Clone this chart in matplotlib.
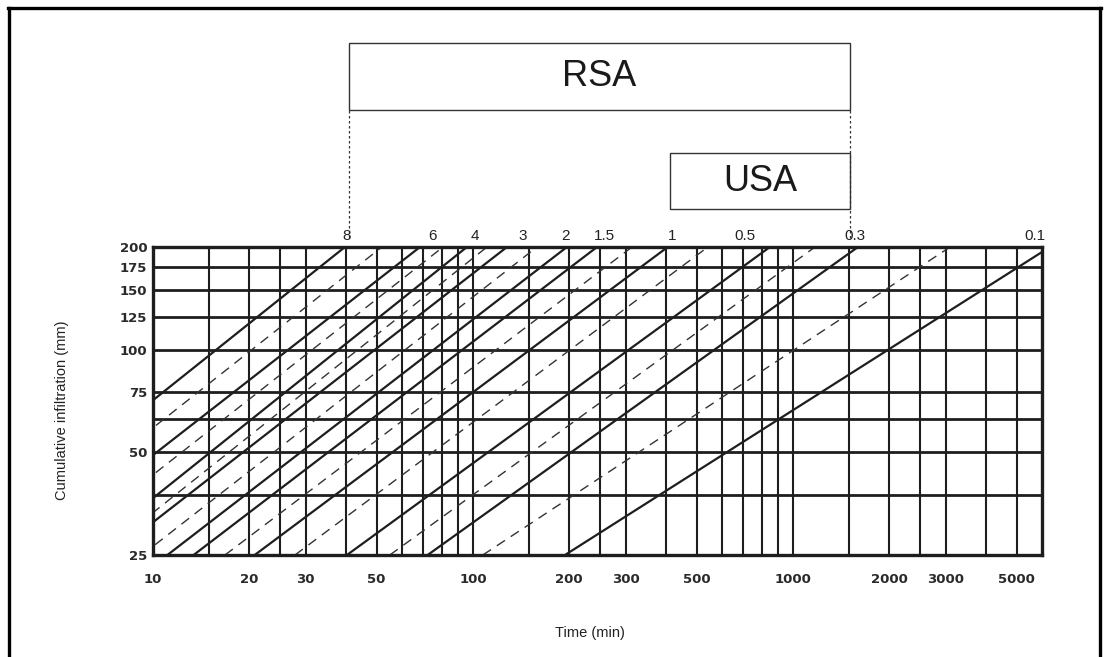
import matplotlib
matplotlib.use("Agg")
import matplotlib.pyplot as plt
from matplotlib.patches import Rectangle
from matplotlib.lines import Line2D
from matplotlib.ticker import NullFormatter, FixedLocator
from matplotlib.transforms import blended_transform_factory

# intake families: time (min) where each line crosses 200 mm (top) and 25 mm (bottom)
family_names = ["8", "6", "4", "3", "2", "1.5", "1", "0.5", "0.3", "0.1"]
family_t_top = [39.8, 68.3, 95.7, 127.7, 196.6, 244.1, 406, 847, 1596, 6350]
family_t_bottom = [2.48, 3.98, 6.0, 7.39, 11.1, 13.4, 20.8, 40.4, 72.2, 194]
label_t = [40.4, 74.5, 101.4, 143, 194, 258, 419, 708, 1563, 5700]

# intermediate (broken) family lines
mid_t_top = [51.9, 80.6, 110.6, 158.5, 314, 542, 1172, 3097]
mid_t_bottom = [3.14, 4.80, 6.82, 9.24, 16.8, 27.8, 55.0, 107.4]

# axis ticks / grid
x_major = [10, 20, 30, 50, 100, 200, 300, 500, 1000, 2000, 3000, 5000]
x_minor = [15, 25, 40, 60, 70, 80, 90, 150, 250, 400, 600, 700, 800, 900,
           1500, 2500, 4000]
y_major = [25, 50, 75, 100, 125, 150, 175, 200]
y_minor = [37.5, 62.5]

# country ranges (time at family label positions)
rsa_range = (41, 1507)
usa_range = (413, 1507)

INK = "#1e1e1e"

fig = plt.figure(figsize=(11.1, 6.57), dpi=100)
ax = fig.add_axes([0.1378, 0.1553, 0.9387 - 0.1378, 0.6240 - 0.1553])
ax.set_xscale("log")
ax.set_yscale("log")
ax.set_xlim(10, 6000)
ax.set_ylim(25, 200)

# grid
for x in x_major + x_minor:
    ax.axvline(x, color=INK, lw=1.5, zorder=1)
for y in y_major + y_minor:
    ax.axhline(y, color=INK, lw=2.0, zorder=1)

# family lines
for t0, t1 in zip(family_t_bottom, family_t_top):
    ax.plot([t0, t1], [25, 200], color=INK, lw=1.6, zorder=2)
for t0, t1 in zip(mid_t_bottom, mid_t_top):
    ax.plot([t0, t1], [25, 200], color="#333333", lw=1.0,
            dashes=(7, 5), zorder=2)

ax.xaxis.set_major_locator(FixedLocator(x_major))
ax.xaxis.set_minor_locator(FixedLocator(x_minor))
ax.xaxis.set_minor_formatter(NullFormatter())
ax.set_xticklabels([str(v) for v in x_major])
ax.yaxis.set_major_locator(FixedLocator(y_major))
ax.yaxis.set_minor_locator(FixedLocator(y_minor))
ax.yaxis.set_minor_formatter(NullFormatter())
ax.set_yticklabels([str(v) for v in y_major])
ax.tick_params(which="both", length=0)
ax.tick_params(axis="x", pad=13, labelsize=9.5, labelcolor="#2a2a2a")
ax.tick_params(axis="y", pad=4, labelsize=9.5, labelcolor="#2a2a2a")
for lab in ax.get_xticklabels() + ax.get_yticklabels():
    lab.set_fontweight("bold")
for sp in ax.spines.values():
    sp.set_linewidth(2.4)
    sp.set_color(INK)

# family labels above the plot
top_tr = blended_transform_factory(ax.transData, ax.transAxes)
for name, t in zip(family_names, label_t):
    ax.text(t, 1.012, name, transform=top_tr, ha="center", va="bottom",
            fontsize=11, family="Liberation Sans", color="#222222",
            clip_on=False)

# RSA / USA boxes
box_tr = blended_transform_factory(ax.transData, fig.transFigure)
for (t0, t1), (y0, y1), name in [(rsa_range, (0.8326, 0.9346), "RSA"),
                                 (usa_range, (0.6819, 0.7671), "USA")]:
    ax.add_patch(Rectangle((t0, y0), t1 - t0, y1 - y0, transform=box_tr,
                           fill=False, edgecolor="#333333", lw=1.0,
                           clip_on=False))
    ax.text((t0 * t1) ** 0.5, (y0 + y1) / 2, name, transform=box_tr,
            ha="center", va="center", fontsize=26, family="Liberation Sans",
            color="#1a1a1a", clip_on=False)
for t in rsa_range:
    ax.add_line(Line2D([t, t], [0.6377, 0.8326], transform=box_tr,
                       color="#333333", lw=0.9, ls=(0, (2, 2)), clip_on=False))

fig.text(62 / 1110, 1 - 410 / 657, "Cumulative infiltration (mm)", rotation=90,
         ha="center", va="center", fontsize=10.5, family="Liberation Sans",
         color="#222222")
fig.text(590 / 1110, 1 - 633 / 657, "Time (min)", ha="center", va="center",
         fontsize=10.5, family="Liberation Sans", color="#222222")

# outer frame of the scanned figure
for xs, ys in [([0.0072, 0.9919], [0.9878, 0.9878]),
               ([0.0081, 0.0081], [0.0, 0.9878]),
               ([0.9910, 0.9910], [0.0, 0.9878])]:
    fig.add_artist(Line2D(xs, ys, transform=fig.transFigure, color="black",
                          lw=2.4))

fig.savefig("out.png", dpi=100)
